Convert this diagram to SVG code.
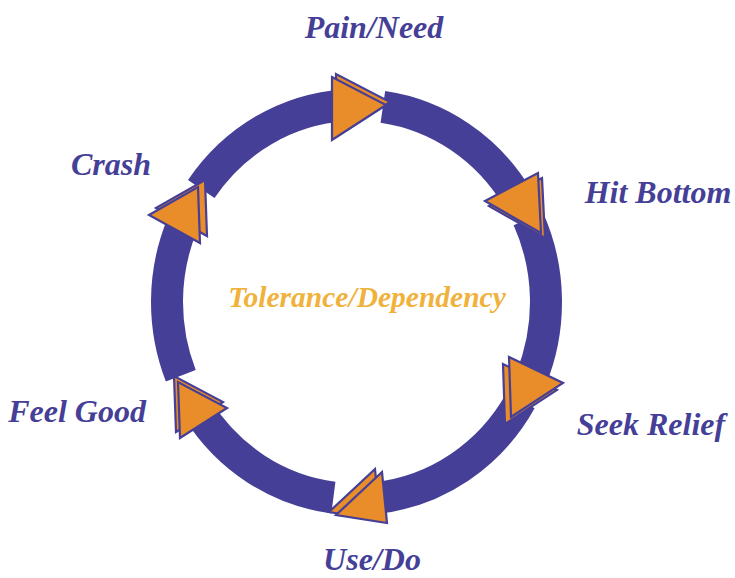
<svg xmlns="http://www.w3.org/2000/svg" width="735" height="578" viewBox="0 0 735 578">
  <style>
    .ring { fill: none; stroke: #453f97; stroke-width: 32; stroke-linecap: butt; }
    .tri { fill: #e98c2a; stroke: #453f97; stroke-width: 2.2; stroke-linejoin: miter; }
    .lbl { font-family: "Liberation Serif", "Times New Roman", serif; font-style: italic; font-weight: bold; font-size: 32px; fill: #453f97; text-anchor: middle; }
    .center { font-family: "Liberation Serif", "Times New Roman", serif; font-style: italic; font-weight: bold; font-size: 29.5px; fill: #f0b23c; text-anchor: middle; }
  </style>
  <rect width="735" height="578" fill="#ffffff"/>

  <!-- cycle ring: six elliptical arcs, each ending beneath the next arrowhead -->
  <g id="connectors">
    <path class="ring" d="M382.87 106.92 A189.5 197 0 0 1 517.21 197.61"/>
    <path class="ring" d="M528.25 218.74 A189.5 197 0 0 1 530.93 378.97"/>
    <path class="ring" d="M520.61 400.5 A189.5 197 0 0 1 376.31 497.92"/>
    <path class="ring" d="M333.41 497.53 A189.5 197 0 0 1 197.57 409.29"/>
    <path class="ring" d="M180.80 375.80 A189.5 197 0 0 1 182.07 225.03"/>
    <path class="ring" d="M201.27 189.0 A189.5 197 0 0 1 344.93 105.37"/>

    <!-- doubled arrowheads: shadow triangle first, then the front one -->
    <g id="arrow-pain">
      <polygon class="tri" points="336,74 336,137 390,102"/>
      <polygon class="tri" points="332,77 332,140 386,105"/>
    </g>
    <g id="arrow-hit">
      <polygon class="tri" points="489,206 542,178 545,238"/>
      <polygon class="tri" points="485,201 538,173 541,233"/>
    </g>
    <g id="arrow-seek">
      <polygon class="tri" points="503,364 505,424 557,390"/>
      <polygon class="tri" points="509,357 511,417 563,383"/>
    </g>
    <g id="arrow-use">
      <polygon class="tri" points="329,512 375,469 380,520"/>
      <polygon class="tri" points="336,515 382,472 387,523"/>
    </g>
    <g id="arrow-feel">
      <polygon class="tri" points="174,376 176,432 223,402"/>
      <polygon class="tri" points="178,382 180,438 227,408"/>
    </g>
    <g id="arrow-crash">
      <polygon class="tri" points="156,208 205,180 207,236"/>
      <polygon class="tri" points="149,215 198,187 200,243"/>
    </g>
  </g>

  <g id="node-pain"><text class="lbl" x="374" y="38">Pain/Need</text></g>
  <g id="node-hit"><text class="lbl" x="658" y="203">Hit Bottom</text></g>
  <g id="node-seek"><text class="lbl" x="651" y="435">Seek Relief</text></g>
  <g id="node-use"><text class="lbl" x="372" y="570">Use/Do</text></g>
  <g id="node-feel"><text class="lbl" x="77" y="422">Feel Good</text></g>
  <g id="node-crash"><text class="lbl" x="111" y="175">Crash</text></g>
  <g id="node-center"><text class="center" x="367" y="307">Tolerance/Dependency</text></g>
</svg>
